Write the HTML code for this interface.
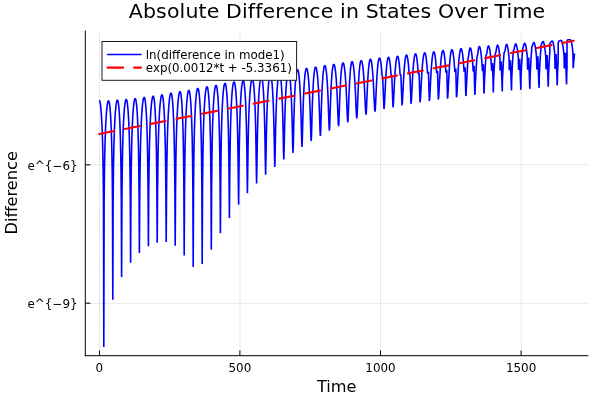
<!DOCTYPE html>
<html><head><meta charset="utf-8"><title>Absolute Difference in States Over Time</title>
<style>
html,body{margin:0;padding:0;background:#fff;}
svg{display:block;}
text{font-family:'DejaVu Sans','Liberation Sans',sans-serif;fill:#000;}
</style></head>
<body>
<svg width="600" height="400" viewBox="0 0 600 400">
<rect x="0" y="0" width="600" height="400" fill="#ffffff"/>
<g stroke="#000" stroke-opacity="0.085" stroke-width="1" fill="none">
<line x1="99.5" y1="30.5" x2="99.5" y2="355.5"/>
<line x1="240.0" y1="30.5" x2="240.0" y2="355.5"/>
<line x1="380.5" y1="30.5" x2="380.5" y2="355.5"/>
<line x1="521.2" y1="30.5" x2="521.2" y2="355.5"/>
<line x1="85.5" y1="164.7" x2="588.4" y2="164.7"/>
<line x1="85.5" y1="303.45" x2="588.4" y2="303.45"/>
</g>
<path d="M99.20,100.30 L99.53,100.59 L99.86,101.48 L100.19,102.97 L100.51,105.13 L100.84,108.00 L101.17,111.69 L101.50,116.35 L101.83,122.17 L102.16,129.52 L102.49,138.96 L102.81,151.59 L103.14,169.87 L103.47,201.63 L103.80,347.10 L104.14,202.13 L104.47,170.37 L104.81,152.09 L105.14,139.46 L105.48,130.02 L105.81,122.67 L106.15,116.85 L106.49,112.19 L106.82,108.50 L107.16,105.63 L107.49,103.47 L107.83,101.98 L108.16,101.09 L108.50,100.80 L108.81,101.09 L109.11,101.98 L109.42,103.47 L109.73,105.63 L110.04,108.50 L110.34,112.19 L110.65,116.84 L110.96,122.67 L111.26,130.01 L111.57,139.44 L111.88,152.06 L112.19,170.29 L112.49,201.84 L112.80,299.70 L113.13,201.05 L113.46,169.50 L113.79,151.26 L114.11,138.64 L114.44,129.21 L114.77,121.87 L115.10,116.04 L115.43,111.39 L115.76,107.70 L116.09,104.83 L116.41,102.67 L116.74,101.18 L117.07,100.29 L117.40,100.00 L117.70,100.29 L118.00,101.18 L118.30,102.67 L118.60,104.83 L118.90,107.70 L119.20,111.39 L119.50,116.04 L119.80,121.86 L120.10,129.19 L120.40,138.61 L120.70,151.20 L121.00,169.37 L121.30,200.53 L121.60,277.10 L121.93,199.95 L122.26,168.77 L122.59,150.60 L122.91,138.01 L123.24,128.59 L123.57,121.26 L123.90,115.44 L124.23,110.79 L124.56,107.10 L124.89,104.23 L125.21,102.07 L125.54,100.58 L125.87,99.69 L126.20,99.40 L126.51,99.69 L126.83,100.57 L127.14,102.07 L127.46,104.22 L127.77,107.10 L128.09,110.78 L128.40,115.43 L128.71,121.24 L129.03,128.57 L129.34,137.97 L129.66,150.53 L129.97,168.60 L130.29,199.25 L130.60,262.70 L130.93,198.41 L131.26,167.71 L131.59,149.64 L131.91,137.08 L132.24,127.67 L132.57,120.34 L132.90,114.53 L133.23,109.88 L133.56,106.20 L133.89,103.32 L134.21,101.17 L134.54,99.67 L134.87,98.79 L135.20,98.50 L135.50,98.79 L135.80,99.67 L136.10,101.17 L136.40,103.32 L136.70,106.19 L137.00,109.88 L137.30,114.52 L137.60,120.33 L137.90,127.64 L138.20,137.03 L138.50,149.55 L138.80,167.52 L139.10,197.67 L139.40,252.90 L139.74,196.58 L140.09,166.35 L140.43,148.37 L140.77,135.84 L141.11,126.45 L141.46,119.13 L141.80,113.32 L142.14,108.68 L142.49,104.99 L142.83,102.12 L143.17,99.97 L143.51,98.47 L143.86,97.59 L144.20,97.30 L144.50,97.59 L144.80,98.47 L145.10,99.97 L145.40,102.12 L145.70,104.99 L146.00,108.67 L146.30,113.31 L146.60,119.11 L146.90,126.42 L147.20,135.80 L147.50,148.29 L147.80,166.18 L148.10,195.93 L148.40,246.30 L148.74,194.86 L149.09,165.01 L149.43,147.11 L149.77,134.61 L150.11,125.23 L150.46,117.92 L150.80,112.11 L151.14,107.47 L151.49,103.79 L151.83,100.92 L152.17,98.77 L152.51,97.27 L152.86,96.39 L153.20,96.10 L153.49,96.39 L153.77,97.27 L154.06,98.77 L154.34,100.92 L154.63,103.79 L154.91,107.47 L155.20,112.11 L155.49,117.91 L155.77,125.21 L156.06,134.58 L156.34,147.06 L156.63,164.90 L156.91,194.44 L157.20,242.70 L157.54,193.30 L157.89,163.64 L158.23,145.78 L158.57,133.29 L158.91,123.92 L159.26,116.61 L159.60,110.81 L159.94,106.17 L160.29,102.49 L160.63,99.62 L160.97,97.47 L161.31,95.97 L161.66,95.09 L162.00,94.80 L162.30,95.09 L162.60,95.97 L162.90,97.47 L163.20,99.62 L163.50,102.49 L163.80,106.17 L164.10,110.81 L164.40,116.61 L164.70,123.92 L165.00,133.29 L165.30,145.77 L165.60,163.62 L165.90,193.20 L166.20,241.90 L166.54,191.70 L166.89,161.97 L167.23,144.09 L167.57,131.60 L167.91,122.22 L168.26,114.91 L168.60,109.11 L168.94,104.47 L169.29,100.79 L169.63,97.92 L169.97,95.77 L170.31,94.27 L170.66,93.39 L171.00,93.10 L171.30,93.39 L171.60,94.27 L171.90,95.77 L172.20,97.92 L172.50,100.79 L172.80,104.47 L173.10,109.11 L173.40,114.92 L173.70,122.24 L174.00,131.62 L174.30,144.13 L174.60,162.07 L174.90,192.10 L175.20,245.70 L175.54,190.65 L175.89,160.51 L176.23,142.55 L176.57,130.03 L176.91,120.64 L177.26,113.33 L177.60,107.52 L177.94,102.88 L178.29,99.19 L178.63,96.32 L178.97,94.17 L179.31,92.67 L179.66,91.79 L180.00,91.50 L180.30,91.79 L180.60,92.67 L180.90,94.17 L181.20,96.32 L181.50,99.20 L181.80,102.88 L182.10,107.53 L182.40,113.34 L182.70,120.67 L183.00,130.08 L183.30,142.63 L183.60,160.71 L183.90,191.40 L184.20,255.50 L184.53,190.27 L184.86,159.53 L185.19,141.44 L185.51,128.88 L185.84,119.47 L186.17,112.14 L186.50,106.33 L186.83,101.68 L187.16,98.00 L187.49,95.12 L187.81,92.97 L188.14,91.47 L188.47,90.59 L188.80,90.30 L189.11,90.59 L189.43,91.48 L189.74,92.97 L190.06,95.13 L190.37,98.00 L190.69,101.69 L191.00,106.34 L191.31,112.16 L191.63,119.49 L191.94,128.91 L192.26,141.50 L192.57,159.66 L192.89,190.81 L193.20,266.90 L193.53,188.88 L193.86,157.68 L194.19,139.51 L194.51,126.92 L194.84,117.49 L195.17,110.16 L195.50,104.34 L195.83,99.69 L196.16,96.00 L196.49,93.13 L196.81,90.97 L197.14,89.48 L197.47,88.59 L197.80,88.30 L198.11,88.59 L198.43,89.48 L198.74,90.97 L199.06,93.13 L199.37,96.00 L199.69,99.69 L200.00,104.33 L200.31,110.15 L200.63,117.49 L200.94,126.91 L201.26,139.50 L201.57,157.65 L201.89,188.77 L202.20,263.90 L202.54,187.23 L202.89,156.07 L203.23,137.90 L203.57,125.31 L203.91,115.89 L204.26,108.56 L204.60,102.74 L204.94,98.09 L205.29,94.40 L205.63,91.53 L205.97,89.37 L206.31,87.88 L206.66,86.99 L207.00,86.70 L207.31,86.99 L207.61,87.87 L207.92,89.37 L208.23,91.52 L208.54,94.40 L208.84,98.08 L209.15,102.73 L209.46,108.54 L209.76,115.87 L210.07,125.27 L210.38,137.83 L210.69,155.89 L210.99,186.53 L211.30,249.70 L211.64,185.22 L211.97,154.51 L212.31,136.44 L212.64,123.88 L212.98,114.47 L213.31,107.14 L213.65,101.33 L213.99,96.68 L214.32,93.00 L214.66,90.12 L214.99,87.97 L215.33,86.47 L215.66,85.59 L216.00,85.30 L216.31,85.59 L216.63,86.47 L216.94,87.97 L217.26,90.12 L217.57,92.99 L217.89,96.67 L218.20,101.31 L218.51,107.11 L218.83,114.42 L219.14,123.79 L219.46,136.28 L219.77,154.14 L220.09,183.81 L220.40,233.30 L220.73,182.04 L221.06,152.20 L221.39,134.30 L221.71,121.81 L222.04,112.43 L222.37,105.12 L222.70,99.31 L223.03,94.67 L223.36,90.99 L223.69,88.12 L224.01,85.97 L224.34,84.47 L224.67,83.59 L225.00,83.30 L225.31,83.59 L225.63,84.47 L225.94,85.97 L226.26,88.11 L226.57,90.98 L226.89,94.65 L227.20,99.28 L227.51,105.06 L227.83,112.34 L228.14,121.66 L228.46,134.03 L228.77,151.59 L229.09,179.79 L229.40,217.90 L229.73,178.65 L230.06,150.26 L230.39,132.67 L230.71,120.28 L231.04,110.95 L231.37,103.67 L231.70,97.88 L232.03,93.25 L232.36,89.58 L232.69,86.71 L233.01,84.57 L233.34,83.07 L233.67,82.19 L234.00,81.90 L234.33,82.19 L234.66,83.07 L234.99,84.56 L235.31,86.70 L235.64,89.56 L235.97,93.22 L236.30,97.83 L236.63,103.59 L236.96,110.83 L237.29,120.07 L237.61,132.27 L237.94,149.37 L238.27,175.63 L238.60,204.70 L238.93,174.76 L239.26,148.27 L239.59,131.12 L239.91,118.89 L240.24,109.64 L240.57,102.40 L240.90,96.64 L241.23,92.03 L241.56,88.36 L241.89,85.50 L242.21,83.36 L242.54,81.87 L242.87,80.99 L243.20,80.70 L243.50,80.99 L243.80,81.87 L244.10,83.35 L244.40,85.49 L244.70,88.33 L245.00,91.98 L245.30,96.57 L245.60,102.29 L245.90,109.47 L246.20,118.60 L246.50,130.58 L246.80,147.08 L247.10,171.08 L247.40,193.30 L247.75,169.90 L248.10,145.44 L248.45,128.81 L248.80,116.79 L249.15,107.64 L249.50,100.45 L249.85,94.71 L250.20,90.12 L250.55,86.47 L250.90,83.62 L251.25,81.49 L251.60,80.00 L251.95,79.12 L252.30,78.83 L252.61,79.12 L252.91,79.99 L253.22,81.47 L253.53,83.60 L253.84,86.44 L254.14,90.07 L254.45,94.63 L254.76,100.31 L255.06,107.42 L255.37,116.43 L255.68,128.15 L255.99,144.02 L256.29,165.88 L256.60,183.50 L256.94,164.86 L257.29,142.46 L257.63,126.43 L257.97,114.64 L258.31,105.60 L258.66,98.47 L259.00,92.78 L259.34,88.21 L259.69,84.57 L260.03,81.74 L260.37,79.61 L260.71,78.13 L261.06,77.25 L261.40,76.96 L261.70,77.25 L262.00,78.12 L262.30,79.60 L262.60,81.71 L262.90,84.53 L263.20,88.14 L263.50,92.67 L263.80,98.31 L264.10,105.34 L264.40,114.20 L264.70,125.63 L265.00,140.80 L265.30,160.56 L265.60,174.70 L265.94,159.68 L266.29,139.34 L266.63,123.98 L266.97,112.46 L267.31,103.55 L267.66,96.50 L268.00,90.85 L268.34,86.31 L268.69,82.69 L269.03,79.87 L269.37,77.75 L269.71,76.27 L270.06,75.40 L270.40,75.11 L270.71,75.40 L271.03,76.27 L271.34,77.73 L271.66,79.84 L271.97,82.65 L272.29,86.23 L272.60,90.73 L272.91,96.31 L273.23,103.25 L273.54,111.95 L273.86,123.07 L274.17,137.50 L274.49,155.33 L274.80,166.90 L275.14,154.56 L275.47,136.12 L275.81,121.45 L276.14,110.22 L276.48,101.46 L276.81,94.49 L277.15,88.89 L277.49,84.39 L277.82,80.79 L278.16,77.98 L278.49,75.87 L278.83,74.40 L279.16,73.53 L279.50,73.25 L279.81,73.53 L280.11,74.39 L280.42,75.85 L280.73,77.95 L281.04,80.73 L281.34,84.29 L281.65,88.74 L281.96,94.26 L282.26,101.09 L282.57,109.62 L282.88,120.38 L283.19,134.02 L283.49,149.99 L283.80,159.50 L284.14,149.34 L284.47,132.74 L284.81,118.83 L285.14,107.94 L285.48,99.35 L285.81,92.48 L286.15,86.94 L286.49,82.47 L286.82,78.90 L287.16,76.11 L287.49,74.01 L287.83,72.55 L288.16,71.68 L288.50,71.40 L288.82,71.68 L289.14,72.54 L289.46,73.99 L289.79,76.07 L290.11,78.83 L290.43,82.36 L290.75,86.77 L291.07,92.22 L291.39,98.94 L291.71,107.28 L292.04,117.68 L292.36,130.56 L292.68,144.93 L293.00,152.90 L293.32,144.35 L293.64,129.37 L293.96,116.18 L294.29,105.63 L294.61,97.22 L294.93,90.45 L295.25,84.97 L295.57,80.55 L295.89,77.01 L296.21,74.23 L296.54,72.15 L296.86,70.69 L297.18,69.83 L297.50,69.55 L297.82,69.83 L298.14,70.68 L298.46,72.12 L298.79,74.19 L299.11,76.93 L299.43,80.43 L299.75,84.79 L300.07,90.17 L300.39,96.78 L300.71,104.92 L301.04,114.96 L301.36,127.12 L301.68,140.10 L302.00,146.90 L302.32,139.76 L302.64,126.37 L302.96,113.99 L303.29,103.83 L303.61,95.63 L303.93,88.98 L304.25,83.58 L304.57,79.21 L304.89,75.70 L305.21,72.95 L305.54,70.88 L305.86,69.44 L306.18,68.58 L306.50,68.30 L306.84,68.58 L307.17,69.42 L307.51,70.85 L307.84,72.90 L308.18,75.61 L308.51,79.06 L308.85,83.36 L309.19,88.64 L309.52,95.10 L309.86,102.98 L310.19,112.56 L310.53,123.83 L310.86,135.26 L311.20,140.90 L311.51,134.96 L311.83,123.12 L312.14,111.59 L312.46,101.88 L312.77,93.93 L313.09,87.42 L313.40,82.11 L313.71,77.80 L314.03,74.33 L314.34,71.61 L314.66,69.56 L314.97,68.13 L315.29,67.28 L315.60,67.00 L315.94,67.28 L316.29,68.11 L316.63,69.53 L316.97,71.56 L317.31,74.24 L317.66,77.66 L318.00,81.90 L318.34,87.09 L318.69,93.41 L319.03,101.06 L319.37,110.23 L319.71,120.78 L320.06,131.04 L320.40,135.90 L320.71,130.74 L321.03,120.01 L321.34,109.16 L321.66,99.82 L321.97,92.07 L322.29,85.70 L322.60,80.47 L322.91,76.20 L323.23,72.77 L323.54,70.07 L323.86,68.04 L324.17,66.62 L324.49,65.78 L324.80,65.50 L325.13,65.77 L325.46,66.60 L325.79,68.01 L326.11,70.01 L326.44,72.66 L326.77,76.03 L327.10,80.20 L327.43,85.29 L327.76,91.45 L328.09,98.85 L328.41,107.58 L328.74,117.37 L329.07,126.54 L329.40,130.70 L329.71,126.32 L330.03,116.81 L330.34,106.77 L330.66,97.89 L330.97,90.41 L331.29,84.19 L331.60,79.07 L331.91,74.87 L332.23,71.49 L332.54,68.83 L332.86,66.81 L333.17,65.41 L333.49,64.58 L333.80,64.30 L334.14,64.57 L334.49,65.39 L334.83,66.78 L335.17,68.76 L335.51,71.38 L335.86,74.71 L336.20,78.81 L336.54,83.80 L336.89,89.80 L337.23,96.95 L337.57,105.28 L337.91,114.41 L338.26,122.67 L338.60,126.30 L338.91,122.43 L339.23,113.75 L339.54,104.31 L339.86,95.79 L340.17,88.52 L340.49,82.44 L340.80,77.40 L341.11,73.27 L341.43,69.92 L341.74,67.29 L342.06,65.29 L342.37,63.90 L342.69,63.07 L343.00,62.80 L343.34,63.07 L343.69,63.88 L344.03,65.26 L344.37,67.22 L344.71,69.81 L345.06,73.10 L345.40,77.14 L345.74,82.04 L346.09,87.92 L346.43,94.86 L346.77,102.85 L347.11,111.45 L347.46,119.04 L347.80,122.30 L348.11,118.86 L348.41,110.96 L348.72,102.11 L349.03,93.95 L349.34,86.91 L349.64,80.97 L349.95,76.02 L350.26,71.95 L350.56,68.65 L350.87,66.04 L351.18,64.07 L351.49,62.69 L351.79,61.87 L352.10,61.60 L352.44,61.87 L352.77,62.67 L353.11,64.03 L353.44,65.97 L353.78,68.53 L354.11,71.76 L354.45,75.73 L354.79,80.53 L355.12,86.24 L355.46,92.93 L355.79,100.54 L356.13,108.55 L356.46,115.42 L356.80,118.30 L357.11,115.28 L357.43,108.15 L357.74,99.91 L358.06,92.16 L358.37,85.37 L358.69,79.60 L359.00,74.76 L359.31,70.76 L359.63,67.51 L359.94,64.94 L360.26,62.99 L360.57,61.63 L360.89,60.82 L361.20,60.55 L361.54,60.81 L361.89,61.61 L362.23,62.95 L362.57,64.86 L362.91,67.38 L363.26,70.56 L363.60,74.46 L363.94,79.14 L364.29,84.69 L364.63,91.13 L364.97,98.35 L365.31,105.81 L365.66,112.04 L366.00,114.60 L366.31,111.88 L366.63,105.33 L366.94,97.59 L367.26,90.17 L367.57,83.60 L367.89,77.97 L368.20,73.22 L368.51,69.29 L368.83,66.08 L369.14,63.54 L369.46,61.62 L369.77,60.27 L370.09,59.47 L370.40,59.20 L370.73,59.46 L371.06,60.25 L371.39,61.58 L371.71,63.48 L372.04,65.97 L372.37,69.11 L372.70,72.96 L373.03,77.57 L373.36,83.01 L373.69,89.28 L374.01,96.26 L374.34,103.37 L374.67,109.23 L375.00,111.60 L375.32,109.09 L375.64,102.97 L375.96,95.60 L376.29,88.45 L376.61,82.05 L376.93,76.53 L377.25,71.87 L377.57,67.99 L377.89,64.82 L378.21,62.30 L378.54,60.40 L378.86,59.06 L379.18,58.26 L379.50,58.00 L379.61,58.03 L379.73,58.13 L379.84,58.29 L379.95,58.51 L380.06,58.80 L380.18,59.15 L380.29,59.57 L380.40,60.06 L380.51,60.61 L380.62,61.23 L380.74,61.93 L380.85,62.69 L380.96,63.53 L381.07,64.44 L381.19,65.43 L381.30,66.50 L381.41,67.66 L381.52,68.89 L381.64,70.21 L381.75,71.63 L381.86,73.13 L381.98,74.73 L382.23,76.20 L382.58,76.00 L384.00,109.05 L384.32,106.75 L384.64,101.04 L384.96,94.06 L385.29,87.18 L385.61,80.97 L385.93,75.57 L386.25,70.99 L386.57,67.17 L386.89,64.05 L387.21,61.56 L387.54,59.67 L387.86,58.35 L388.18,57.56 L388.50,57.30 L388.61,57.33 L388.73,57.43 L388.84,57.58 L388.95,57.81 L389.06,58.09 L389.18,58.44 L389.29,58.86 L389.40,59.34 L389.51,59.89 L389.62,60.51 L389.74,61.20 L389.85,61.96 L389.96,62.79 L390.07,63.70 L390.19,64.68 L390.30,65.74 L390.41,66.89 L390.52,68.11 L390.64,69.42 L390.75,70.82 L390.86,72.31 L390.98,73.89 L391.09,75.56 L391.34,75.67 L391.77,75.14 L393.00,107.30 L393.32,105.07 L393.64,99.53 L393.96,92.71 L394.29,85.94 L394.61,79.81 L394.93,74.47 L395.25,69.92 L395.57,66.12 L395.89,63.02 L396.21,60.54 L396.54,58.66 L396.86,57.34 L397.18,56.56 L397.50,56.30 L397.61,56.33 L397.73,56.43 L397.84,56.58 L397.95,56.80 L398.06,57.09 L398.18,57.44 L398.29,57.85 L398.40,58.33 L398.51,58.88 L398.62,59.49 L398.74,60.18 L398.85,60.93 L398.96,61.76 L399.07,62.66 L399.19,63.63 L399.30,64.69 L399.41,65.82 L399.52,67.03 L399.64,68.33 L399.75,69.71 L399.86,71.19 L399.98,72.75 L400.09,74.40 L400.34,75.14 L400.85,74.29 L402.00,105.30 L402.32,103.15 L402.64,97.77 L402.96,91.10 L403.29,84.45 L403.61,78.39 L403.93,73.10 L404.25,68.59 L404.57,64.82 L404.89,61.73 L405.21,59.27 L405.54,57.40 L405.86,56.09 L406.18,55.31 L406.50,55.05 L406.61,55.08 L406.73,55.18 L406.84,55.33 L406.95,55.55 L407.06,55.84 L407.18,56.19 L407.29,56.60 L407.40,57.08 L407.51,57.62 L407.62,58.24 L407.74,58.92 L407.85,59.67 L407.96,60.50 L408.07,61.40 L408.19,62.37 L408.30,63.42 L408.41,64.55 L408.52,65.76 L408.64,67.06 L408.75,68.44 L408.86,69.90 L408.98,71.46 L409.09,73.11 L409.34,74.61 L409.94,73.43 L411.00,103.80 L411.32,101.67 L411.64,96.35 L411.96,89.73 L412.29,83.11 L412.61,77.08 L412.93,71.81 L413.25,67.32 L413.57,63.56 L413.89,60.47 L414.21,58.02 L414.54,56.15 L414.86,54.84 L415.18,54.06 L415.50,53.80 L415.61,53.83 L415.73,53.93 L415.84,54.08 L415.95,54.30 L416.06,54.59 L416.18,54.93 L416.29,55.35 L416.40,55.82 L416.51,56.37 L416.62,56.98 L416.74,57.66 L416.85,58.42 L416.96,59.24 L417.07,60.14 L417.19,61.11 L417.30,62.16 L417.41,63.28 L417.52,64.49 L417.64,65.78 L417.75,67.16 L417.86,68.62 L417.98,70.18 L418.09,71.82 L418.20,73.55 L418.40,74.09 L419.08,72.57 L420.00,102.30 L420.34,100.22 L420.67,95.00 L421.01,88.48 L421.34,81.95 L421.68,75.97 L422.01,70.74 L422.35,66.27 L422.69,62.52 L423.02,59.45 L423.36,57.00 L423.69,55.14 L424.03,53.83 L424.36,53.06 L424.70,52.80 L424.81,52.83 L424.93,52.93 L425.05,53.08 L425.16,53.30 L425.27,53.58 L425.39,53.93 L425.50,54.34 L425.62,54.82 L425.74,55.37 L425.85,55.98 L425.96,56.66 L426.08,57.41 L426.19,58.23 L426.31,59.13 L426.43,60.10 L426.54,61.14 L426.65,62.27 L426.77,63.48 L426.88,64.76 L427.00,66.14 L427.12,67.60 L427.23,69.15 L427.35,70.79 L427.46,72.51 L427.70,73.56 L428.47,71.71 L429.30,101.10 L429.62,99.04 L429.94,93.86 L430.26,87.38 L430.59,80.88 L430.91,74.92 L431.23,69.71 L431.55,65.25 L431.87,61.51 L432.19,58.44 L432.51,56.00 L432.84,54.14 L433.16,52.83 L433.48,52.06 L433.80,51.80 L433.91,51.83 L434.03,51.92 L434.14,52.08 L434.25,52.30 L434.36,52.58 L434.48,52.93 L434.59,53.34 L434.70,53.82 L434.81,54.36 L434.93,54.97 L435.04,55.65 L435.15,56.39 L435.26,57.21 L435.38,58.10 L435.49,59.07 L435.60,60.11 L435.71,61.23 L435.82,62.43 L435.94,63.72 L436.05,65.08 L436.16,66.53 L436.28,68.07 L436.39,69.70 L436.50,71.42 L436.70,73.03 L437.55,70.86 L438.30,99.60 L438.64,97.57 L438.97,92.45 L439.31,86.04 L439.64,79.58 L439.98,73.65 L440.31,68.46 L440.65,64.01 L440.99,60.29 L441.32,57.23 L441.66,54.79 L441.99,52.94 L442.33,51.63 L442.66,50.86 L443.00,50.60 L443.11,50.63 L443.23,50.73 L443.34,50.88 L443.45,51.10 L443.56,51.38 L443.68,51.73 L443.79,52.14 L443.90,52.62 L444.01,53.16 L444.12,53.77 L444.24,54.45 L444.35,55.20 L444.46,56.02 L444.57,56.92 L444.69,57.89 L444.80,58.93 L444.91,60.05 L445.02,61.26 L445.14,62.54 L445.25,63.92 L445.36,65.37 L445.48,66.92 L445.59,68.55 L445.70,70.28 L445.81,72.09 L445.90,72.50 L446.80,70.00 L447.50,98.70 L447.81,96.67 L448.13,91.55 L448.44,85.14 L448.76,78.68 L449.07,72.75 L449.39,67.56 L449.70,63.11 L450.01,59.39 L450.33,56.33 L450.64,53.89 L450.96,52.04 L451.27,50.73 L451.59,49.96 L451.90,49.70 L452.01,49.73 L452.13,49.82 L452.25,49.98 L452.36,50.20 L452.47,50.48 L452.59,50.83 L452.70,51.24 L452.82,51.71 L452.94,52.25 L453.05,52.86 L453.16,53.54 L453.28,54.29 L453.39,55.10 L453.51,55.99 L453.62,56.96 L453.74,58.00 L453.85,59.12 L453.97,60.32 L454.08,61.60 L454.20,62.96 L454.31,64.41 L454.43,65.94 L454.55,67.57 L454.66,69.28 L454.77,71.08 L454.90,72.17 L455.80,68.58 L456.50,97.30 L456.82,95.31 L457.14,90.27 L457.46,83.94 L457.79,77.54 L458.11,71.66 L458.43,66.49 L458.75,62.07 L459.07,58.36 L459.39,55.31 L459.71,52.88 L460.04,51.03 L460.36,49.73 L460.68,48.96 L461.00,48.70 L461.12,48.73 L461.24,48.82 L461.36,48.98 L461.48,49.20 L461.60,49.48 L461.72,49.83 L461.84,50.24 L461.96,50.71 L462.08,51.25 L462.20,51.86 L462.32,52.53 L462.44,53.28 L462.56,54.10 L462.68,54.99 L462.80,55.95 L462.92,56.99 L463.04,58.10 L463.16,59.30 L463.28,60.58 L463.40,61.94 L463.52,63.38 L463.64,64.91 L463.76,66.53 L463.88,68.24 L464.00,70.04 L464.20,71.83 L465.10,67.17 L465.80,96.10 L465.89,95.85 L465.98,95.12 L466.07,93.96 L466.16,92.44 L466.25,90.63 L466.34,88.62 L466.44,86.47 L466.54,84.24 L466.65,82.00 L466.76,79.76 L466.87,77.56 L466.98,75.42 L467.09,73.35 L467.20,71.36 L467.31,69.45 L467.42,67.64 L467.53,65.91 L467.64,64.27 L467.75,62.73 L467.86,61.27 L467.97,59.90 L468.08,58.61 L468.19,57.41 L468.59,56.69 L468.71,55.61 L469.01,52.76 L469.31,50.62 L469.60,49.13 L469.90,48.24 L470.20,47.95 L470.31,47.98 L470.43,48.07 L470.55,48.23 L470.66,48.45 L470.77,48.73 L470.89,49.07 L471.00,49.48 L471.12,49.95 L471.24,50.49 L471.35,51.10 L471.46,51.77 L471.58,52.51 L471.69,53.33 L471.81,54.21 L471.93,55.17 L472.04,56.20 L472.15,57.31 L472.27,58.50 L472.38,59.77 L472.50,61.12 L472.62,62.56 L472.73,64.08 L472.85,65.69 L472.96,67.38 L473.07,69.16 L473.19,71.02 L473.20,71.50 L474.10,65.75 L474.80,94.80 L474.87,94.55 L474.95,93.82 L475.02,92.65 L475.09,91.11 L475.17,89.29 L475.24,87.27 L475.31,85.11 L475.42,82.88 L475.53,80.62 L475.65,78.37 L475.76,76.16 L475.87,74.02 L475.98,71.94 L476.10,69.94 L476.21,68.03 L476.32,66.21 L476.43,64.49 L476.55,62.85 L476.66,61.30 L476.77,59.84 L476.88,58.46 L477.00,57.18 L477.11,55.97 L477.58,54.98 L477.82,53.82 L478.12,51.23 L478.41,49.24 L478.71,47.81 L479.00,46.90 L479.30,46.50 L479.42,46.53 L479.54,46.62 L479.65,46.78 L479.77,47.00 L479.89,47.28 L480.00,47.62 L480.12,48.03 L480.24,48.51 L480.36,49.05 L480.48,49.65 L480.59,50.33 L480.71,51.07 L480.83,51.88 L480.94,52.77 L481.06,53.73 L481.18,54.77 L481.30,55.88 L481.42,57.07 L481.53,58.35 L481.65,59.70 L481.77,61.14 L481.88,62.67 L482.00,64.28 L482.12,65.98 L482.24,67.77 L482.36,69.64 L482.40,71.17 L483.30,64.33 L484.00,93.60 L484.05,93.36 L484.10,92.64 L484.16,91.50 L484.21,90.00 L484.26,88.23 L484.31,86.24 L484.37,84.12 L484.46,81.93 L484.57,79.70 L484.68,77.49 L484.79,75.31 L484.90,73.19 L485.01,71.13 L485.12,69.16 L485.23,67.26 L485.34,65.46 L485.45,63.74 L485.56,62.12 L485.67,60.58 L485.78,59.13 L485.89,57.76 L486.00,56.48 L486.11,55.28 L486.57,54.07 L486.93,52.83 L487.23,50.48 L487.52,48.64 L487.81,47.27 L488.11,46.34 L488.40,45.85 L488.52,45.88 L488.64,45.97 L488.77,46.13 L488.89,46.35 L489.01,46.63 L489.13,46.97 L489.26,47.38 L489.38,47.85 L489.50,48.39 L489.62,48.99 L489.75,49.66 L489.87,50.41 L489.99,51.22 L490.12,52.10 L490.24,53.06 L490.36,54.09 L490.48,55.20 L490.61,56.38 L490.73,57.65 L490.85,59.00 L490.97,60.43 L491.09,61.95 L491.22,63.55 L491.34,65.24 L491.46,67.01 L491.58,68.87 L491.71,70.81 L491.70,70.83 L492.60,62.92 L493.30,92.50 L493.33,92.26 L493.36,91.56 L493.39,90.44 L493.43,88.96 L493.46,87.21 L493.49,85.25 L493.52,83.16 L493.58,80.99 L493.69,78.78 L493.79,76.59 L493.89,74.43 L494.00,72.32 L494.11,70.28 L494.21,68.32 L494.31,66.44 L494.42,64.64 L494.52,62.93 L494.63,61.31 L494.74,59.78 L494.84,58.34 L494.94,56.98 L495.05,55.70 L495.16,54.50 L495.56,53.06 L496.04,51.74 L496.34,49.61 L496.63,47.91 L496.92,46.61 L497.21,45.68 L497.50,45.10 L497.62,45.13 L497.74,45.22 L497.86,45.38 L497.98,45.60 L498.10,45.88 L498.22,46.22 L498.34,46.62 L498.46,47.10 L498.58,47.63 L498.70,48.24 L498.82,48.91 L498.94,49.65 L499.06,50.46 L499.18,51.34 L499.30,52.29 L499.42,53.32 L499.54,54.43 L499.66,55.61 L499.78,56.87 L499.90,58.22 L500.10,70.50 L501.20,61.50 L502.30,91.50 L502.31,91.26 L502.33,90.57 L502.34,89.47 L502.35,88.01 L502.37,86.28 L502.38,84.34 L502.39,82.27 L502.44,80.12 L502.55,77.94 L502.65,75.76 L502.75,73.61 L502.86,71.52 L502.97,69.49 L503.07,67.54 L503.18,65.67 L503.28,63.88 L503.38,62.18 L503.49,60.57 L503.60,59.04 L503.70,57.60 L503.81,56.25 L503.91,54.97 L504.02,53.78 L504.12,52.67 L504.46,52.10 L505.06,50.70 L505.34,48.79 L505.63,47.23 L505.92,45.99 L506.21,45.05 L506.50,44.40 L506.62,44.43 L506.75,44.52 L506.88,44.68 L507.00,44.89 L507.12,45.17 L507.25,45.52 L507.38,45.92 L507.50,46.39 L507.62,46.93 L507.75,47.53 L507.88,48.20 L508.00,48.94 L508.12,49.74 L508.25,50.62 L508.38,51.58 L508.50,52.60 L508.62,53.70 L508.75,54.88 L508.88,56.14 L509.00,57.48 L509.12,58.91 L509.30,70.25 L510.40,60.17 L511.50,90.50 L511.52,90.27 L511.54,89.59 L511.56,88.50 L511.59,87.07 L511.61,85.37 L511.63,83.46 L511.65,81.42 L511.69,79.30 L511.79,77.14 L511.89,74.99 L511.99,72.86 L512.10,70.79 L512.20,68.77 L512.30,66.84 L512.40,64.98 L512.51,63.20 L512.61,61.51 L512.71,59.91 L512.81,58.39 L512.92,56.96 L513.02,55.61 L513.12,54.34 L513.22,53.15 L513.33,52.04 L513.43,51.01 L513.57,50.30 L514.17,48.90 L514.45,47.44 L514.74,46.22 L515.03,45.21 L515.31,44.41 L515.60,43.80 L515.73,43.83 L515.86,43.92 L515.99,44.08 L516.12,44.29 L516.25,44.57 L516.38,44.92 L516.51,45.32 L516.64,45.79 L516.77,46.33 L516.90,46.93 L517.03,47.60 L517.16,48.33 L517.29,49.14 L517.42,50.02 L517.55,50.97 L517.68,52.00 L517.81,53.10 L517.94,54.28 L518.07,55.53 L518.20,56.87 L518.33,58.29 L518.60,70.00 L519.70,58.85 L520.80,89.80 L520.83,89.57 L520.86,88.89 L520.88,87.81 L520.91,86.39 L520.94,84.69 L520.97,82.79 L520.99,80.76 L521.02,78.64 L521.09,76.49 L521.18,74.34 L521.28,72.22 L521.37,70.15 L521.47,68.14 L521.56,66.21 L521.66,64.35 L521.75,62.58 L521.85,60.89 L521.94,59.29 L522.04,57.78 L522.13,56.34 L522.23,55.00 L522.32,53.73 L522.42,52.54 L522.51,51.44 L522.61,50.40 L522.58,48.80 L523.18,47.40 L523.46,46.19 L523.75,45.19 L524.03,44.36 L524.32,43.70 L524.60,43.20 L524.73,43.23 L524.86,43.32 L524.99,43.48 L525.12,43.69 L525.25,43.97 L525.38,44.31 L525.51,44.72 L525.64,45.18 L525.77,45.72 L525.90,46.32 L526.03,46.98 L526.16,47.72 L526.29,48.52 L526.42,49.40 L526.55,50.35 L526.68,51.37 L526.81,52.46 L526.94,53.64 L527.07,54.89 L527.20,56.22 L527.33,57.64 L527.60,69.75 L528.70,57.53 L529.80,88.80 L529.84,88.57 L529.87,87.91 L529.91,86.84 L529.95,85.44 L529.98,83.76 L530.02,81.88 L530.06,79.87 L530.09,77.77 L530.18,75.64 L530.27,73.51 L530.37,71.41 L530.47,69.35 L530.57,67.35 L530.66,65.43 L530.76,63.58 L530.86,61.82 L530.96,60.14 L531.05,58.54 L531.15,57.03 L531.25,55.61 L531.35,54.26 L531.45,53.00 L531.54,51.82 L531.64,50.72 L531.74,49.69 L531.69,47.50 L532.29,46.10 L532.57,45.07 L532.85,44.20 L533.14,43.49 L533.42,42.93 L533.70,42.50 L533.83,42.53 L533.97,42.62 L534.10,42.78 L534.23,42.99 L534.36,43.27 L534.50,43.61 L534.63,44.01 L534.76,44.48 L534.89,45.01 L535.03,45.61 L535.16,46.28 L535.29,47.01 L535.42,47.81 L535.56,48.68 L535.69,49.63 L535.82,50.65 L535.95,51.74 L536.09,52.91 L536.22,54.16 L536.35,55.49 L536.48,56.90 L536.62,58.39 L536.80,69.50 L537.90,56.20 L539.00,87.80 L539.04,87.57 L539.07,86.91 L539.11,85.84 L539.15,84.44 L539.18,82.76 L539.22,80.88 L539.26,78.87 L539.29,76.77 L539.38,74.64 L539.48,72.51 L539.57,70.41 L539.67,68.35 L539.77,66.35 L539.87,64.43 L539.96,62.58 L540.06,60.82 L540.16,59.14 L540.25,57.54 L540.35,56.03 L540.45,54.61 L540.55,53.26 L540.64,52.00 L540.74,50.82 L540.84,49.72 L540.94,48.69 L540.90,45.70 L541.50,44.30 L541.78,43.50 L542.06,42.83 L542.34,42.27 L542.62,41.83 L542.90,41.50 L543.03,41.53 L543.16,41.62 L543.30,41.78 L543.43,41.99 L543.56,42.27 L543.69,42.61 L543.83,43.01 L543.96,43.48 L544.09,44.01 L544.23,44.61 L544.36,45.27 L544.49,46.00 L544.62,46.80 L544.75,47.67 L544.89,48.62 L545.02,49.63 L545.15,50.72 L545.28,51.89 L545.42,53.14 L545.55,54.46 L545.68,55.87 L545.82,57.35 L546.00,69.17 L547.10,55.07 L548.20,86.60 L548.24,86.38 L548.28,85.74 L548.31,84.71 L548.35,83.35 L548.39,81.72 L548.43,79.89 L548.46,77.93 L548.50,75.88 L548.60,73.79 L548.70,71.70 L548.80,69.63 L548.90,67.61 L549.00,65.64 L549.10,63.74 L549.20,61.92 L549.30,60.18 L549.40,58.51 L549.50,56.93 L549.60,55.44 L549.70,54.02 L549.80,52.69 L549.80,44.10 L550.40,42.70 L550.76,42.21 L551.12,41.80 L551.48,41.47 L551.84,41.20 L552.20,41.00 L552.33,41.03 L552.45,41.12 L552.58,41.27 L552.70,41.49 L552.83,41.76 L552.95,42.10 L553.08,42.50 L553.20,42.97 L553.33,43.49 L553.45,44.09 L553.58,44.75 L553.70,45.47 L553.83,46.27 L553.95,47.13 L554.08,48.07 L554.20,49.08 L554.33,50.16 L554.45,51.32 L554.58,52.55 L554.70,53.86 L554.83,55.25 L555.00,68.83 L556.10,53.93 L557.20,85.30 L557.24,85.09 L557.27,84.47 L557.31,83.47 L557.35,82.15 L557.38,80.57 L557.42,78.79 L557.46,76.88 L557.49,74.88 L557.58,72.83 L557.68,70.78 L557.77,68.75 L557.87,66.76 L557.97,64.82 L558.07,62.95 L558.16,61.15 L558.20,42.60 L558.80,41.20 L559.26,40.96 L559.72,40.77 L560.18,40.62 L560.64,40.49 L561.10,40.40 L561.24,40.43 L561.37,40.52 L561.50,40.67 L561.64,40.89 L561.77,41.16 L561.91,41.50 L562.05,41.90 L562.18,42.36 L562.32,42.89 L562.45,43.48 L562.59,44.13 L562.72,44.86 L562.86,45.65 L562.99,46.51 L563.12,47.44 L563.26,48.45 L563.39,49.52 L563.53,50.68 L563.66,51.90 L563.80,53.21 L563.94,54.59 L564.07,56.05 L564.30,68.50 L565.40,52.80 L566.50,84.30 L566.53,84.09 L566.57,83.48 L566.60,82.50 L566.64,81.19 L566.67,79.63 L566.71,77.88 L566.74,75.98 L566.78,74.00 L566.83,71.98 L566.92,69.95 L567.02,67.93 L567.00,41.20 L567.60,39.80 L568.12,39.77 L568.64,39.74 L569.16,39.73 L569.68,39.71 L570.20,39.70 L570.34,39.73 L570.47,39.82 L570.61,39.97 L570.74,40.19 L570.88,40.47 L571.01,40.80 L571.15,41.21 L571.28,41.67 L571.42,42.20 L571.55,42.79 L571.69,43.46 L571.82,44.18 L571.96,44.98 L572.09,45.85 L572.23,46.79 L572.36,47.80 L572.50,48.88 L572.63,50.04 L572.76,51.28 L572.90,52.60 L573.20,68.30 L574.50,53.50" fill="none" stroke="#0000ff" stroke-width="1.6" stroke-linejoin="bevel" stroke-linecap="butt"/>
<line x1="99.3" y1="134.0" x2="573.6" y2="40.78" stroke="#ff0000" stroke-width="2.1" stroke-dasharray="15.1 11.12" stroke-linecap="round" fill="none"/>
<g stroke="#000" stroke-width="1" fill="none">
<line x1="85.3" y1="30.5" x2="85.3" y2="356.2"/>
<line x1="85" y1="355.7" x2="588.4" y2="355.7"/>
<line x1="99.4" y1="355.5" x2="99.4" y2="350.5"/>
<line x1="239.9" y1="355.5" x2="239.9" y2="350.5"/>
<line x1="380.5" y1="355.5" x2="380.5" y2="350.5"/>
<line x1="521.1" y1="355.5" x2="521.1" y2="350.5"/>
<line x1="85.5" y1="164.85" x2="90.4" y2="164.85"/>
<line x1="85.5" y1="303.2" x2="90.4" y2="303.2"/>
</g>
<g font-size="11.95" text-anchor="middle">
<text x="99.4" y="371.8">0</text>
<text x="239.9" y="371.8">500</text>
<text x="380.5" y="371.8">1000</text>
<text x="521.1" y="371.8">1500</text>
</g>
<g font-size="11.95" text-anchor="end">
<text x="77.6" y="169.6">e^{−6}</text>
<text x="77.6" y="307.95">e^{−9}</text>
</g>
<text transform="translate(337,17.6) scale(1.051,1)" font-size="19.5" text-anchor="middle" letter-spacing="0.13">Absolute Difference in States Over Time</text>
<text x="336.7" y="391.7" font-size="16.2" text-anchor="middle">Time</text>
<text transform="translate(16.6,192.8) rotate(-90)" font-size="16.2" text-anchor="middle">Difference</text>
<rect x="102.0" y="41.5" width="194.6" height="38.8" fill="#ffffff" stroke="#1c1c1c" stroke-width="1"/>
<line x1="107.6" y1="54.5" x2="141" y2="54.5" stroke="#0000ff" stroke-width="1.6" stroke-linecap="round"/>
<line x1="107.55" y1="67.6" x2="141" y2="67.6" stroke="#ff0000" stroke-width="2.1" stroke-dasharray="15.6 10.9" stroke-linecap="round"/>
<text x="145.8" y="59.2" font-size="11.85">ln(difference in mode1)</text>
<text x="145.8" y="72.0" font-size="11.85">exp(0.0012*t + -5.3361)</text>
</svg>
</body></html>
